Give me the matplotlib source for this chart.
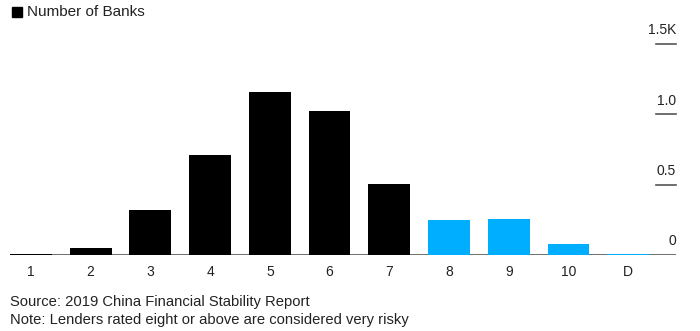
import matplotlib
matplotlib.use("Agg")
import matplotlib.pyplot as plt
from matplotlib.patches import Rectangle

# Number of banks by central bank rating (2019)
ratings = ["1", "2", "3", "4", "5", "6", "7", "8", "9", "10", "D"]
banks = [9, 52, 321, 713, 1159, 1023, 506, 249, 259, 78, 8]
risky = [False] * 7 + [True] * 4

y_ticks = [0, 500, 1000, 1500]
y_labels = ["0", "0.5", "1.0", "1.5K"]

BLACK = "#000000"
BLUE = "#00aeff"
GREY = "#555555"

plt.rcParams["font.family"] = ["Liberation Sans", "DejaVu Sans"]

fig = plt.figure(figsize = (7.0, 3.31), dpi = 100)
ax = fig.add_axes([0.0143, 0.2287, 0.9514, 0.6383])

colors = [BLUE if r else BLACK for r in risky]
ax.bar(range(len(ratings)), banks, width = 0.7, color = colors, zorder = 3)

ax.set_xlim(-0.35, 10.8)
ax.set_ylim(0, 1500)

# baseline
ax.axhline(0, color = GREY, linewidth = 1.2, zorder = 2)

# short tick marks on the right with labels sitting above them
trans = ax.get_yaxis_transform()
for val, lab in zip(y_ticks, y_labels):
    if val > 0:
        ax.plot([0.97, 1.0], [val, val], transform = trans, color = GREY,
                linewidth = 1.2, clip_on = False)
    ax.annotate(lab, xy = (1.0, val), xycoords = trans, xytext = (0, 5),
                textcoords = "offset points", ha = "right", va = "bottom",
                fontsize = 10, color = "#222222")

ax.set_xticks(range(len(ratings)))
ax.set_xticklabels(ratings, fontsize = 10, color = "#222222")
ax.tick_params(axis = "x", length = 0, pad = 7)
ax.set_yticks([])
for s in ax.spines.values():
    s.set_visible(False)

# legend square + label
fig.patches.append(Rectangle((12 / 700, 1 - 17 / 331), 10 / 700, 10 / 331,
                             transform = fig.transFigure, color = BLACK))
fig.text(27 / 700, 1 - 12 / 331, "Number of Banks", fontsize = 11,
         va = "center", ha = "left", color = "#222222")

fig.text(10 / 700, 1 - 302 / 331, "Source: 2019 China Financial Stability Report",
         fontsize = 10.6, va = "center", ha = "left", color = "#222222")
fig.text(10 / 700, 1 - 320 / 331, "Note: Lenders rated eight or above are considered very risky",
         fontsize = 10.6, va = "center", ha = "left", color = "#222222")

fig.savefig("out.png", dpi = 100)
plt.close(fig)
